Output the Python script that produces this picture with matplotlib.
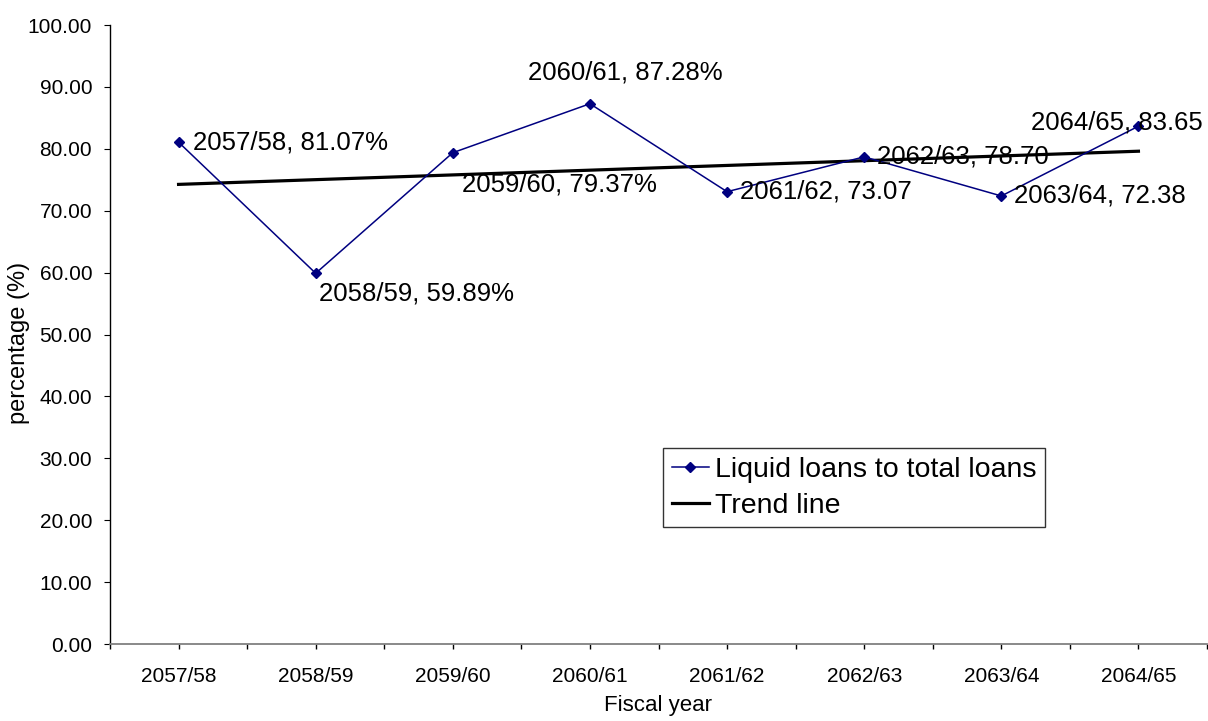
import matplotlib
matplotlib.use("Agg")
import matplotlib.pyplot as plt
from matplotlib.ticker import MultipleLocator, FixedLocator, FormatStrFormatter

plt.rcParams['font.family'] = ['Liberation Sans', 'DejaVu Sans']

years = ["2057/58", "2058/59", "2059/60", "2060/61", "2061/62", "2062/63", "2063/64", "2064/65"]
ratio = [81.07, 59.89, 79.37, 87.28, 73.07, 78.70, 72.38, 83.65]
point_labels = ["2057/58, 81.07%", "2058/59, 59.89%", "2059/60, 79.37%", "2060/61, 87.28%",
                "2061/62, 73.07", "2062/63, 78.70", "2063/64, 72.38", "2064/65, 83.65"]
trend_ends = [74.25, 79.61]

label_offsets = [(14, 0), (3, -20), (9, -32), (-62, 31), (13, 0), (13, 0), (13, 0), (-107, 4)]

fig = plt.figure(figsize=(12.08, 7.21), dpi=100)
ax = fig.add_axes([110/1208, 1-644/721, (1207-110)/1208, (644-25)/721])

x = list(range(1, len(years) + 1))
ax.plot(x, ratio, color='#000080', lw=1.1, marker='D', ms=5.5, mfc='#000080', mec='#000080',
        label='Liquid loans to total loans', zorder=3, clip_on=False)
ax.plot([x[0], x[-1]], trend_ends, color='black', lw=2.3, label='Trend line', zorder=2)

for xi, yi, lab, off in zip(x, ratio, point_labels, label_offsets):
    ax.annotate(lab, (xi, yi), xytext=off, textcoords='offset pixels',
                ha='left', va='center', fontsize=18.5, color='black', zorder=4)

ax.set_xlim(0.5, len(years) + 0.5)
ax.set_ylim(0, 100)
ax.yaxis.set_major_locator(MultipleLocator(10))
ax.yaxis.set_major_formatter(FormatStrFormatter('%.2f'))
ax.set_xticks(x)
ax.set_xticklabels(years)
ax.xaxis.set_minor_locator(FixedLocator([i + 0.5 for i in range(0, len(years) + 1)]))
ax.tick_params(axis='x', which='both', length=3.6, width=1.0, color='black', direction='out')
ax.tick_params(axis='x', which='major', pad=13, labelsize=15)
ax.tick_params(axis='y', length=4.3, labelsize=15, direction='out', pad=8.5)

for s in ['top', 'right']:
    ax.spines[s].set_visible(False)
ax.spines['bottom'].set_color('#808080')
ax.spines['bottom'].set_linewidth(1.3)
ax.spines['left'].set_color('black')
ax.spines['left'].set_linewidth(1.0)

ax.set_ylabel('percentage (%)', fontsize=17)
ax.yaxis.set_label_coords(-0.0733, 0.486)
ax.set_xlabel('Fiscal year', fontsize=16)
ax.xaxis.set_label_coords(0.5, -0.083)

leg = ax.legend(loc='upper left', bbox_to_anchor=(663/1208, 1-448/721), bbox_transform=fig.transFigure,
                fontsize=20.5, frameon=True, fancybox=False, shadow=False, borderpad=0.3,
                handlelength=1.3, handletextpad=0.24, labelspacing=0.36, borderaxespad=0)
leg.get_frame().set_edgecolor('black')
leg.get_frame().set_linewidth(1.0)

fig.savefig('out.png', dpi=100)
